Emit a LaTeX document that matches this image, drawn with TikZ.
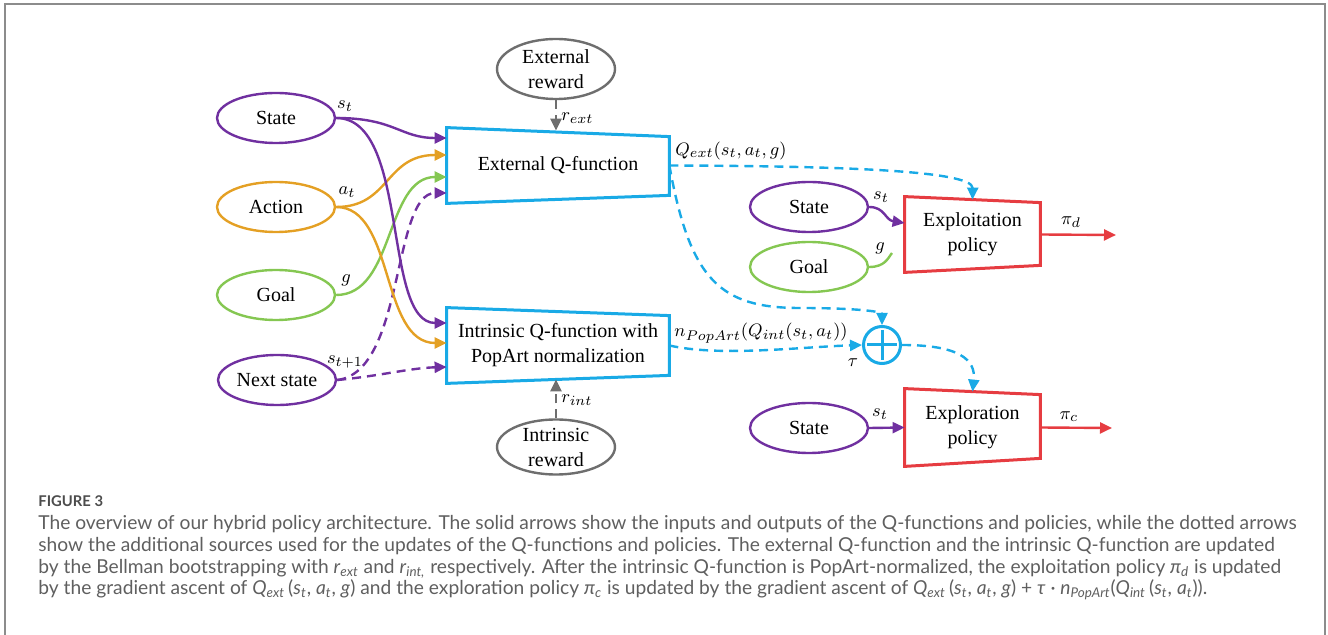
\documentclass[tikz,border=0pt]{standalone}
\usepackage{fontspec}
\setmainfont{Liberation Serif}
\newfontfamily\capfont{Lato}
\usetikzlibrary{arrows.meta,shapes.geometric}

\definecolor{spurple}{RGB}{112,48,160}
\definecolor{sorange}{RGB}{228,160,36}
\definecolor{sgreen}{RGB}{133,199,82}
\definecolor{qblue}{RGB}{25,170,230}
\definecolor{pred}{RGB}{230,60,65}
\definecolor{rgray}{RGB}{110,110,110}
\definecolor{capgray}{RGB}{95,95,95}
\definecolor{framegray}{RGB}{140,140,140}

\newcommand{\csub}[2]{\textit{#1}\textsubscript{\textit{#2}}}

\tikzset{
  inp/.style={ellipse, draw, line width=1.2pt, minimum width=59pt, minimum height=25pt,
    inner sep=0pt, align=center, font=\fontsize{10}{12.5}\selectfont},
  rwd/.style={inp, draw=rgray, minimum height=30pt},
  qbox/.style={minimum width=111pt, minimum height=37.5pt, inner sep=0pt, align=center,
    font=\fontsize{10}{12.5}\selectfont},
  pbox/.style={qbox, minimum width=67.5pt},
  lab/.style={inner sep=0pt, font=\fontsize{9.5}{11}\selectfont},
  link/.style={line width=1.2pt, -{Triangle[length=6pt,width=5.5pt]}},
  dlink/.style={link, dash pattern=on 4.5pt off 3pt},
  captext/.style={anchor=base west, inner sep=0pt, text=capgray,
    font=\capfont\fontsize{9.6}{11}\selectfont},
}

\begin{document}
\begin{tikzpicture}[x=0.5pt, y=-0.5pt]
\useasboundingbox (0,0) rectangle (1328,635);

% frame
\draw[framegray, line width=1pt] (5,635) -- (5,4) -- (1325,4) -- (1325,635);

% inputs
\node[inp, draw=spurple] (state) at (276,118) {State};
\node[inp, draw=sorange] (action) at (276,207) {Action};
\node[inp, draw=sgreen] (goal) at (276,295) {Goal};
\node[inp, draw=spurple] (next) at (277,380) {Next state};

% rewards
\node[rwd] (extrw) at (556,69) {External\\reward};
\node[rwd, minimum height=27.5pt] (intrw) at (556,447) {Intrinsic\\reward};

% Q-functions
\node[qbox] (ext) at (558,165.5) {External Q-function};
\node[qbox] (int) at (558,345.5) {Intrinsic Q-function with\\PopArt normalization};
\draw[qblue, line width=1.5pt] (ext.north west) -- ([yshift=-4.5pt]ext.north east)
  -- ([yshift=4pt]ext.south east) -- (ext.south west) -- cycle;
\draw[qblue, line width=1.5pt] (int.north west) -- ([yshift=-4pt]int.north east)
  -- ([yshift=4pt]int.south east) -- (int.south west) -- cycle;

% policies
\node[pbox] (ploit) at (972.5,234.5) {Exploitation\\policy};
\node[pbox, minimum height=38.5pt] (plore) at (972.5,427.5) {Exploration\\policy};
\draw[pred, line width=1.5pt] (ploit.north west) -- ([yshift=-3pt]ploit.north east)
  -- ([yshift=3.5pt]ploit.south east) -- (ploit.south west) -- cycle;
\draw[pred, line width=1.5pt] (plore.north west) -- ([yshift=-3pt]plore.north east)
  -- ([yshift=4pt]plore.south east) -- (plore.south west) -- cycle;

% policy inputs
\node[inp, draw=spurple] (s2) at (809,207) {State};
\node[inp, draw=sgreen] (g2) at (809,267) {Goal};
\node[inp, draw=spurple] (s3) at (809,428) {State};

% sum
\node[circle, draw=qblue, line width=1.5pt, minimum size=18.5pt, inner sep=0pt] (plus) at (882,345) {};
\draw[qblue, line width=1.5pt] ([yshift=-2.5pt]plus.north) -- ([yshift=2.5pt]plus.south)
  ([xshift=2.5pt]plus.west) -- ([xshift=-2.5pt]plus.east);

\coordinate (outd) at (1116,235);
\coordinate (outc) at (1112,428);
\coordinate (gtip) at (892,253);
\path (extrw.south |- ext.north) coordinate (extin);
\path (intrw.north |- int.south) coordinate (intin);

% inputs to Q-functions
\draw[dlink, spurple] (next.east) .. controls (405,372) and (392,193) .. ([yshift=-13.75pt]ext.west);
\draw[dlink, spurple] (next.east) .. controls (380,376) and (410,368) .. ([yshift=-10.75pt]int.west);
\draw[link, sgreen] (goal.east) .. controls (395,295) and (385,177) .. ([yshift=-5.75pt]ext.west);
\draw[link, sorange] (action.east) .. controls (390,207) and (385,155) .. ([yshift=5.25pt]ext.west);
\draw[link, sorange] (action.east) .. controls (395,207) and (380,343) .. ([yshift=1.25pt]int.west);
\draw[link, spurple] (state.east) .. controls (395,118) and (400,138) .. ([yshift=13.75pt]ext.west);
\draw[link, spurple] (state.east) .. controls (410,118) and (382,323) .. ([yshift=11.25pt]int.west);

% rewards
\draw[dlink, rgray] (extrw.south) -- ([yshift=-1.5pt]extin);
\draw[dlink, rgray] (intrw.north) -- ([yshift=2pt]intin);

% Q-values to policies
\draw[dlink, qblue] (ext.east) .. controls (830,166) and (973,170) .. ([yshift=-1.5pt]ploit.north);
\draw[dlink, qblue] (ext.east) .. controls (690,280) and (720,308) .. (800,308)
  .. controls (860,308) and (882,312) .. (plus.north);
\draw[dlink, qblue] (int.east) .. controls (720,357) and (800,347) .. (plus.west);
\draw[dlink, qblue] (plus.east) .. controls (960,345) and (976,360) .. ([yshift=-1.5pt]plore.north);

% policy inputs and outputs
\draw[link, spurple] (s2.east) .. controls (885,207) and (885,220) .. ([yshift=5.75pt]ploit.west);
\draw[sgreen, line width=1.2pt] (g2.east) .. controls (885,267) and (888,258) .. (gtip);
\draw[link, spurple] (s3.east) -- (plore.west);
\draw[link, pred] (ploit.east) -- (outd);
\draw[link, pred] (plore.east) -- (outc);

% labels
\node[lab] (lst) at (345,106) {$s_t$};
\node[lab] (lat) at (347,192) {$a_t$};
\node[lab] (lg) at (346,280) {$g$};
\node[lab] (lsn) at (345,362) {$s_{t+1}$};
\node[lab, anchor=west] (lrext) at (561,118) {$r_{ext}$};
\node[lab, anchor=west] (lrint) at (561,400) {$r_{int}$};
\node[lab, anchor=west] (lqext) at (675,151) {$Q_{ext}(s_t,a_t,g)$};
\node[lab, anchor=west] (lnpop) at (674,333) {$n_{PopArt}(Q_{int}(s_t,a_t))$};
\node[lab] (ltau) at (853,363) {$\tau$};
\node[lab] (ls2) at (881,197) {$s_t$};
\node[lab] (lg2) at (880,248) {$g$};
\node[lab] (ls3) at (880,414) {$s_t$};
\node[lab] (lpid) at (1071,222) {$\pi_d$};
\node[lab] (lpic) at (1069,417) {$\pi_c$};

% caption
\node[captext, text=black!70, font=\capfont\bfseries\fontsize{7.4}{9}\selectfont] (fig) at (38,507) {FIGURE 3};
\node[captext] (cap1) at (38,530) {The overview of our hybrid policy architecture. The solid arrows show the inputs and outputs of the Q-functions and policies, while the dotted arrows};
\node[captext] (cap2) at (38,552) {show the additional sources used for the updates of the Q-functions and policies. The external Q-function and the intrinsic Q-function are updated};
\node[captext] (cap3) at (38,573.5) {by the Bellman bootstrapping with \csub{r}{ext} and \csub{r}{int,} respectively. After the intrinsic Q-function is PopArt-normalized, the exploitation policy \csub{π}{d} is updated};
\node[captext] (cap4) at (38,595) {by the gradient ascent of \csub{Q}{ext}\,(\csub{s}{t}, \csub{a}{t}, \textit{g}) and the exploration policy \csub{π}{c} is updated by the gradient ascent of \csub{Q}{ext}\,(\csub{s}{t}, \csub{a}{t}, \textit{g}) + \textit{τ} · \csub{n}{PopArt}(\csub{Q}{int}\,(\csub{s}{t}, \csub{a}{t})).};

\end{tikzpicture}
\end{document}
